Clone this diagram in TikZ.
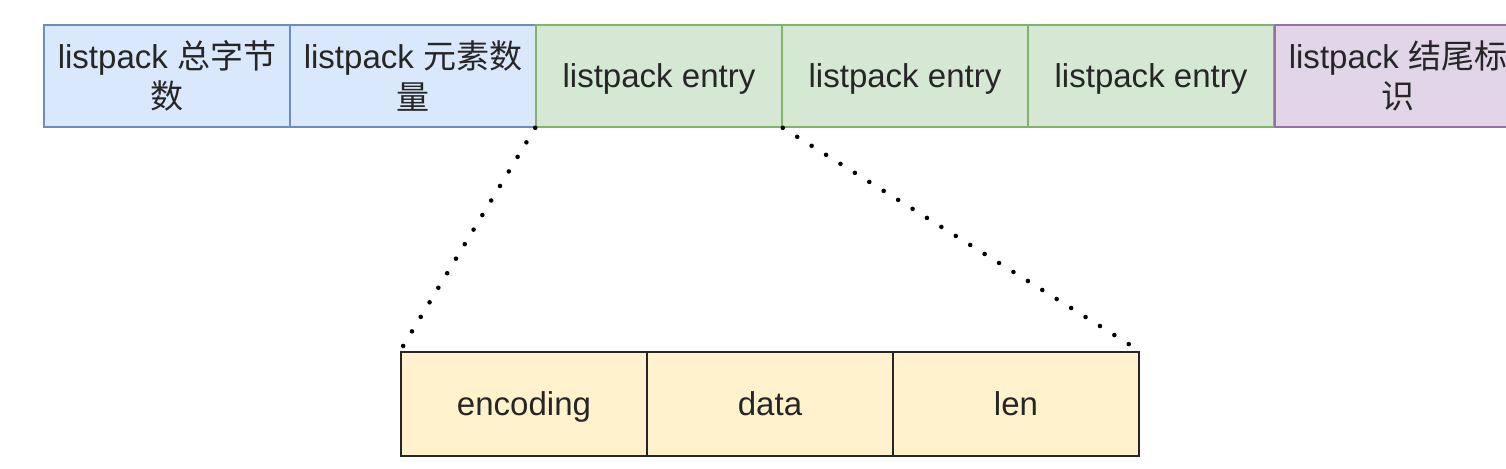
\documentclass[tikz,border=0pt]{standalone}
\usepackage{fontspec}
\setmainfont{Liberation Sans}
\newfontfamily\cjk{Noto Sans CJK SC}
\usetikzlibrary{backgrounds}

\definecolor{hdfill}{HTML}{DAE8FC}
\definecolor{hdline}{HTML}{6C8EBF}
\definecolor{enfill}{HTML}{D5E8D4}
\definecolor{enline}{HTML}{82B366}
\definecolor{tlfill}{HTML}{E1D5E7}
\definecolor{tlline}{HTML}{9673A6}
\definecolor{fdfill}{HTML}{FFF2CC}
\definecolor{txt}{HTML}{262626}

\tikzset{
  cell/.style={rectangle, minimum width=246*0.02cm, minimum height=102*0.02cm,
    inner sep=0pt, align=center, text=txt, line width=0.9pt,
    font=\fontsize{18.8pt}{22.8pt}\selectfont},
  oneline/.style={text height=13.6pt, text depth=0pt},
  header/.style={cell, draw=hdline, fill=hdfill},
  entry/.style={cell, oneline, draw=enline, fill=enfill},
  tail/.style={cell, draw=tlline, fill=tlfill},
  field/.style={cell, oneline, draw=black!85, fill=fdfill, minimum height=104*0.02cm, line width=1.1pt},
  zoomline/.style={line width=2.6pt, line cap=round, dash pattern=on 0pt off 17*0.02cm}
}

\begin{document}
\begin{tikzpicture}[x=0.02cm, y=-0.02cm]
  \useasboundingbox (0,0) rectangle (1506,468);
  \clip (0,0) rectangle (1506,468);
  % listpack layout
  \node[header] (total) at (167,76) {listpack {\cjk 总字节}\\{\cjk 数}};
  \node[header] (count) at (413,76) {listpack {\cjk 元素数}\\{\cjk 量}};
  \node[entry] (entA) at (659,76) {listpack entry};
  \node[entry] (entB) at (905,76) {listpack entry};
  \node[entry] (entC) at (1151,76) {listpack entry};
  \node[tail] (endmark) at (1398,76) {listpack {\cjk 结尾标}\\{\cjk 识}};
  % one entry
  \node[field] (enc) at (524,404) {encoding};
  \node[field] (data) at (770,404) {data};
  \node[field] (len) at (1016,404) {len};
  \draw[zoomline] (entA.south west) -- (enc.north west);
  \draw[zoomline] (entA.south east) -- (len.north east);
\end{tikzpicture}
\end{document}
